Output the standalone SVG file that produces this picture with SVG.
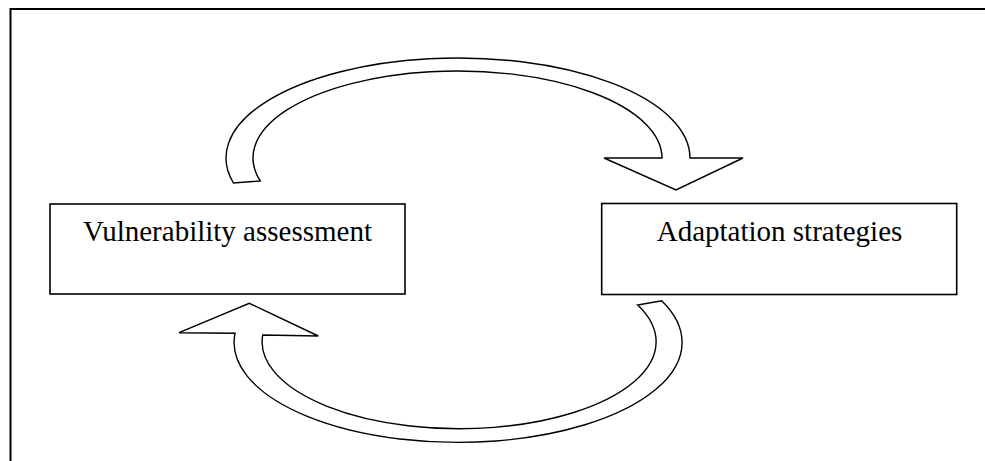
<svg xmlns="http://www.w3.org/2000/svg" width="985" height="461" viewBox="0 0 985 461">
<style>
.box{fill:#fff;stroke:#000;stroke-width:1.6}
.lbl{font-family:"Liberation Serif","Times New Roman",serif;font-size:29px;fill:#000;text-anchor:middle}
.arr{fill:#fff;stroke:#000;stroke-width:1.4;stroke-linejoin:miter}
</style>
<rect width="985" height="461" fill="#fff"/>
<path d="M10.5,461 V9 H985" fill="none" stroke="#000" stroke-width="2"/>
<g id="connectors">
<path class="arr" d="M233.4,183 A232,100 0 1 1 690,158 L743,158 L676,190 L604,158 L662,158 A204.5,87 0 1 0 260.3,181 Z"/>
<path class="arr" d="M235,333.3 L179,332.7 L249.3,303.3 L318.3,336 L262.7,335 A197,87 0 1 0 637.7,305 L661.7,300.7 A224,100 0 1 1 235,333.3 Z"/>
</g>
<g id="node-vulnerability">
<rect class="box" x="50" y="204" width="355" height="90"/>
<text class="lbl" x="227.5" y="240.7">Vulnerability assessment</text>
</g>
<g id="node-adaptation">
<rect class="box" x="601.7" y="203.5" width="355" height="91"/>
<text class="lbl" x="779.5" y="240.7">Adaptation strategies</text>
</g>
</svg>
